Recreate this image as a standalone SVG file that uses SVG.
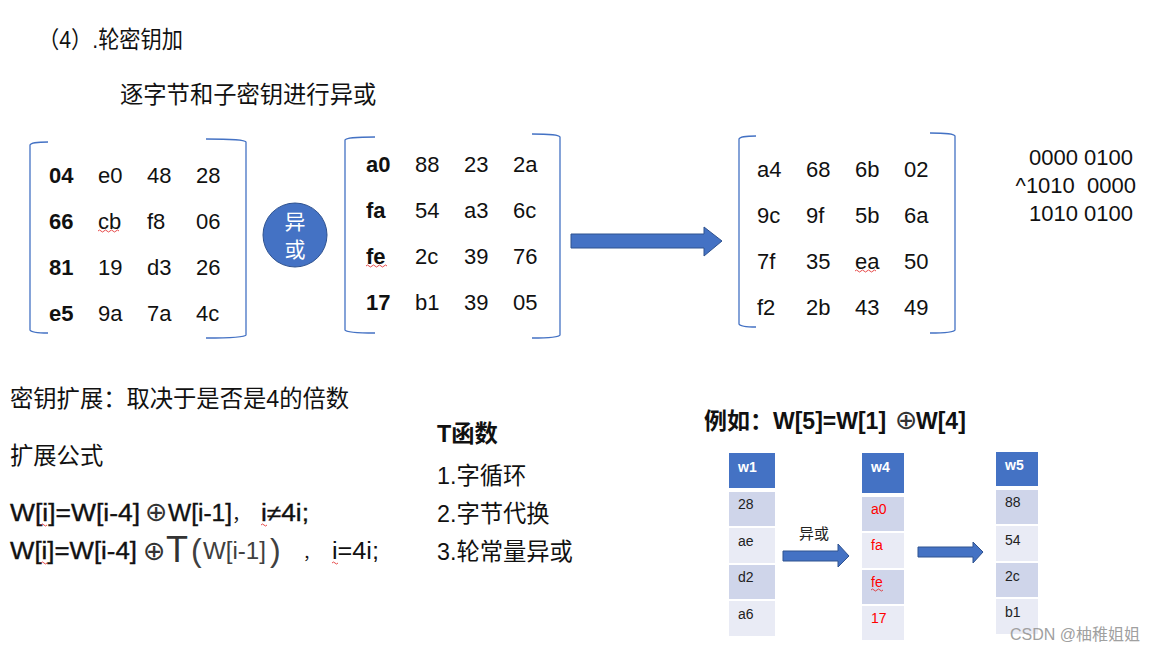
<svg xmlns="http://www.w3.org/2000/svg" width="1161" height="652" viewBox="0 0 1161 652">
<style>
.t{font-family:"Liberation Sans","Noto Sans CJK SC",sans-serif;fill:#111}
.m{font-size:22px}
.cj{font-size:23.3px}
.b{font-weight:bold}
.br{fill:none;stroke:#4472C4;stroke-width:1.3}
.hd{fill:#4472C4}
.c1{fill:#CFD5EA}
.c2{fill:#E9EBF5}
.ct{font-family:"Liberation Sans","Noto Sans CJK SC",sans-serif;font-size:14px;fill:#222}
.ht{font-family:"Liberation Sans",sans-serif;font-size:14px;font-weight:bold;fill:#fff}
.rt{fill:#FF0000}
.arr{fill:#4472C4;stroke:#2F528F;stroke-width:1}
.sq{fill:none;stroke:#E02020;stroke-width:0.8}
.ox{font-family:"DejaVu Sans",sans-serif;font-size:27px;fill:#333}
.fm{stroke:#111;stroke-width:0.35}
</style>

<g id="titles">
<text class="t cj" x="38" y="48" textLength="145" lengthAdjust="spacingAndGlyphs">（4）.轮密钥加</text>
<text class="t cj" x="120" y="103">逐字节和子密钥进行异或</text>
</g>

<g id="matrix1">
<path class="br" d="M48,142 Q31,142 30,145 L30,330 Q31,333 48,333"/>
<path class="br" d="M206,139 Q245,139 246,142 L246,335 Q245,338 206,338"/>
<g class="t m">
<text x="49" y="183" class="b">04</text><text x="98" y="183">e0</text><text x="147" y="183">48</text><text x="196" y="183">28</text>
<text x="49" y="229" class="b">66</text><text x="98" y="229">cb</text><text x="147" y="229">f8</text><text x="196" y="229">06</text>
<text x="49" y="275" class="b">81</text><text x="98" y="275">19</text><text x="147" y="275">d3</text><text x="196" y="275">26</text>
<text x="49" y="321" class="b">e5</text><text x="98" y="321">9a</text><text x="147" y="321">7a</text><text x="196" y="321">4c</text>
</g>
<path class="sq" d="M98,231 q1.5,-2 3,0 t3,0 t3,0 t3,0 t3,0 t3,0 t3,0"/>
</g>

<g id="xor-circle">
<circle cx="295" cy="235" r="32" fill="#4472C4" stroke="#2F528F" stroke-width="1"/>
<text x="295" y="229" text-anchor="middle" font-family="'Noto Sans CJK SC',sans-serif" font-size="21" fill="#fff">异</text>
<text x="295" y="257" text-anchor="middle" font-family="'Noto Sans CJK SC',sans-serif" font-size="21" fill="#fff">或</text>
</g>

<g id="matrix2">
<path class="br" d="M375,137 Q346,137 345,140 L345,330 Q346,333 375,333"/>
<path class="br" d="M532,134 Q559,134 560,137 L560,335 Q559,338 532,338"/>
<g class="t m">
<text x="366" y="172" class="b">a0</text><text x="415" y="172">88</text><text x="464" y="172">23</text><text x="513" y="172">2a</text>
<text x="366" y="218" class="b">fa</text><text x="415" y="218">54</text><text x="464" y="218">a3</text><text x="513" y="218">6c</text>
<text x="366" y="264" class="b">fe</text><text x="415" y="264">2c</text><text x="464" y="264">39</text><text x="513" y="264">76</text>
<text x="366" y="310" class="b">17</text><text x="415" y="310">b1</text><text x="464" y="310">39</text><text x="513" y="310">05</text>
</g>
<path class="sq" d="M366,266 q1.5,-2 3,0 t3,0 t3,0 t3,0 t3,0 t3,0 t3,0"/>
</g>

<g id="connectors">
<polygon class="arr" points="571,234 704,234 704,227 722,241 704,256 704,248 571,248"/>
<polygon class="arr" points="783,551 838,551 838,544 849,556 838,567 838,561 783,561"/>
<polygon class="arr" points="918,547 973,547 973,542 983,552 973,563 973,557 918,557"/>
<text x="814" y="539" text-anchor="middle" font-family="'Noto Sans CJK SC',sans-serif" font-size="15" fill="#222">异或</text>
</g>

<g id="matrix3">
<path class="br" d="M756,136 Q740,136 739,139 L739,324 Q740,327 756,327"/>
<path class="br" d="M930,133 Q954,133 955,136 L955,330 Q954,333 930,333"/>
<g class="t m">
<text x="757" y="177">a4</text><text x="806" y="177">68</text><text x="855" y="177">6b</text><text x="904" y="177">02</text>
<text x="757" y="223">9c</text><text x="806" y="223">9f</text><text x="855" y="223">5b</text><text x="904" y="223">6a</text>
<text x="757" y="269">7f</text><text x="806" y="269">35</text><text x="855" y="269">ea</text><text x="904" y="269">50</text>
<text x="757" y="315">f2</text><text x="806" y="315">2b</text><text x="855" y="315">43</text><text x="904" y="315">49</text>
</g>
<path class="sq" d="M855,271 q1.5,-2 3,0 t3,0 t3,0 t3,0 t3,0 t3,0 t3,0"/>
</g>

<g id="binary">
<g class="t" font-size="22">
<text x="1133" y="165" text-anchor="end">0000 0100</text>
<text x="1136" y="193" text-anchor="end" xml:space="preserve">^1010  0000</text>
<text x="1133" y="221" text-anchor="end">1010 0100</text>
</g>
</g>

<g id="key-expansion">
<text class="t cj" x="10" y="407">密钥扩展：取决于是否是4的倍数</text>
<text class="t cj" x="10" y="464">扩展公式</text>
<g class="t" font-size="23">
<text x="10" y="521" class="fm" textLength="130" lengthAdjust="spacingAndGlyphs">W[i]=W[i-4]</text>
<text x="145" y="521" class="ox">⊕</text>
<text x="168" y="521" class="fm" textLength="64" lengthAdjust="spacingAndGlyphs">W[i-1]</text>
<text x="232" y="521" font-size="18">，</text>
<text x="261" y="521" class="fm" textLength="48" lengthAdjust="spacingAndGlyphs">i≠4i;</text>
<text x="10" y="559" class="fm" textLength="127" lengthAdjust="spacingAndGlyphs">W[i]=W[i-4]</text>
<text x="143" y="560" class="ox">⊕</text>
<text x="166" y="562" font-size="36" fill="#333">T</text>
<text x="191" y="561" font-size="32" fill="#404040">(</text>
<text x="203" y="559" fill="#404040" textLength="63" lengthAdjust="spacingAndGlyphs">W[i-1]</text>
<text x="270" y="561" font-size="32" fill="#404040">)</text>
<text x="303" y="559" font-size="16">，</text>
<text x="332" y="559" textLength="47" lengthAdjust="spacingAndGlyphs">i=4i;</text>
</g>
<path class="sq" d="M41,525 q1.5,-2 3,0 t3,0"/>
<path class="sq" d="M261,525 q1.5,-2 3,0 t3,0"/>
<path class="sq" d="M41,563 q1.5,-2 3,0 t3,0"/>
<path class="sq" d="M332,563 q1.5,-2 3,0 t3,0"/>
</g>

<g id="t-function">
<text class="t cj b" x="437" y="442">T函数</text>
<text class="t cj" x="437" y="484">1.字循环</text>
<text class="t cj" x="437" y="522">2.字节代换</text>
<text class="t cj" x="437" y="560">3.轮常量异或</text>
</g>

<g id="example-title">
<text class="t b" font-size="23" x="704" y="429">例如：W[5]=W[1]</text>
<text class="ox" x="895" y="429">⊕</text>
<text class="t b" font-size="23" x="916" y="429">W[4]</text>
</g>

<g id="w1">
<rect class="hd" x="729" y="453" width="46" height="35"/>
<rect class="c1" x="729" y="492" width="46" height="34"/>
<rect class="c2" x="729" y="528" width="46" height="35"/>
<rect class="c1" x="729" y="565" width="46" height="34"/>
<rect class="c2" x="729" y="601" width="46" height="35"/>
<text class="ht" x="738" y="472">w1</text>
<text class="ct" x="738" y="509">28</text>
<text class="ct" x="738" y="546">ae</text>
<text class="ct" x="738" y="582">d2</text>
<text class="ct" x="738" y="619">a6</text>
</g>

<g id="w4">
<rect class="hd" x="862" y="453" width="42" height="40"/>
<rect class="c1" x="862" y="497" width="42" height="34"/>
<rect class="c2" x="862" y="533" width="42" height="35"/>
<rect class="c1" x="862" y="570" width="42" height="34"/>
<rect class="c2" x="862" y="606" width="42" height="34"/>
<text class="ht" x="871" y="472">w4</text>
<text class="ct rt" x="871" y="514">a0</text>
<text class="ct rt" x="871" y="550">fa</text>
<text class="ct rt" x="871" y="587">fe</text>
<text class="ct rt" x="871" y="623">17</text>
<path class="sq" d="M871,590 q1.5,-2 3,0 t3,0 t3,0 t3,0"/>
</g>

<g id="w5">
<rect class="hd" x="996" y="452" width="42" height="34"/>
<rect class="c1" x="996" y="490" width="42" height="34"/>
<rect class="c2" x="996" y="526" width="42" height="35"/>
<rect class="c1" x="996" y="563" width="42" height="34"/>
<rect class="c2" x="996" y="599" width="42" height="35"/>
<text class="ht" x="1005" y="470">w5</text>
<text class="ct" x="1005" y="507">88</text>
<text class="ct" x="1005" y="545">54</text>
<text class="ct" x="1005" y="581">2c</text>
<text class="ct" x="1005" y="617">b1</text>
</g>

<g id="watermark">
<text x="1010" y="640" font-family="'Liberation Sans','Noto Sans CJK SC',sans-serif" font-size="16" fill="#A0A0A0">CSDN @柚稚姐姐</text>
</g>
</svg>
